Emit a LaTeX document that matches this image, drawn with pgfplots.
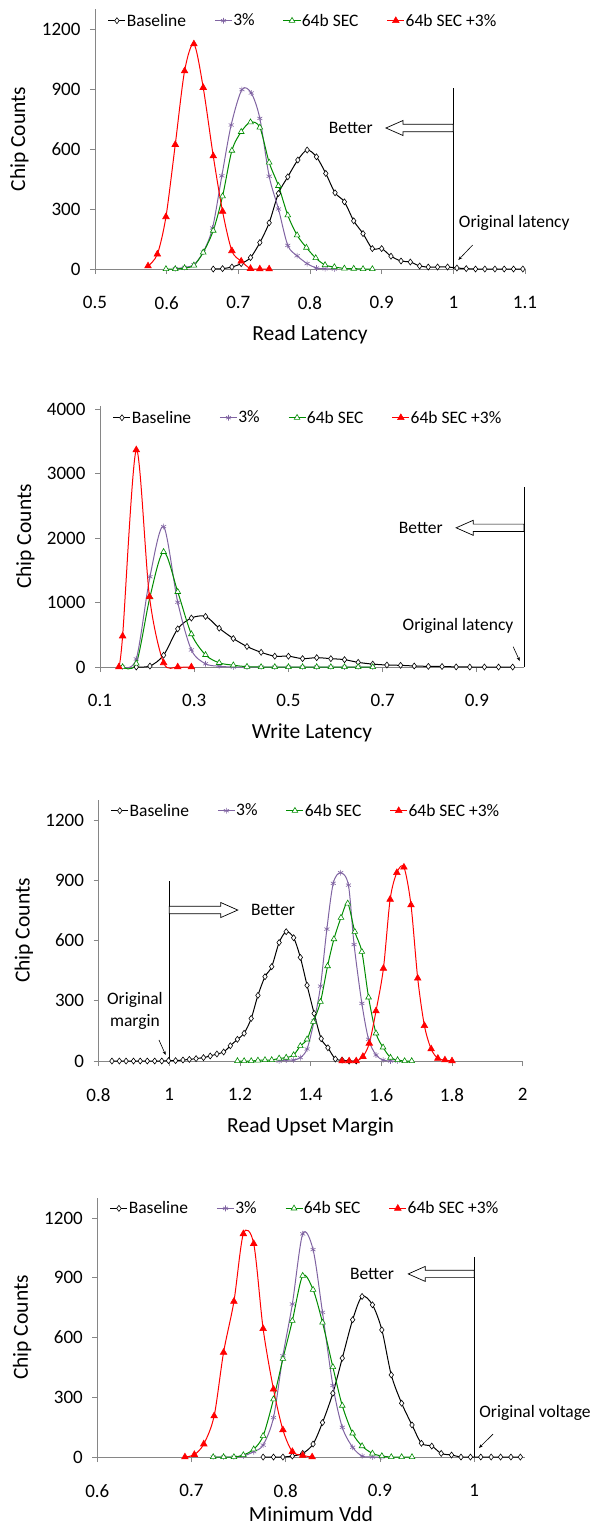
\documentclass[border=0pt]{standalone}
\usepackage{fontspec}
\setmainfont{Carlito}
\usepackage{pgfplots}
\pgfplotsset{compat=1.18}
\usetikzlibrary{arrows.meta}

\definecolor{axgray}{RGB}{134,134,134}
\definecolor{cpurple}{RGB}{128,100,162}
\definecolor{cgreen}{RGB}{0,140,0}
\definecolor{cred}{RGB}{255,0,0}

\newcommand{\annfont}{\fontsize{17.5}{21.7}\selectfont}

% left-pointing block arrow: tip x, tail x, y
\newcommand{\larrow}[3]{%
  \draw[black, line width=0.7pt, fill=white, line join=miter]
    (axis cs:#1,#3) -- ([xshift=17pt,yshift=7.5pt]axis cs:#1,#3)
    -- ([xshift=17pt,yshift=3.7pt]axis cs:#1,#3)
    -- ([yshift=3.7pt]axis cs:#2,#3) -- ([yshift=-3.7pt]axis cs:#2,#3)
    -- ([xshift=17pt,yshift=-3.7pt]axis cs:#1,#3)
    -- ([xshift=17pt,yshift=-7.5pt]axis cs:#1,#3) -- cycle;}
% right-pointing block arrow: tip x, tail x, y
\newcommand{\rarrow}[3]{%
  \draw[black, line width=0.7pt, fill=white, line join=miter]
    (axis cs:#1,#3) -- ([xshift=-17pt,yshift=7.5pt]axis cs:#1,#3)
    -- ([xshift=-17pt,yshift=3.7pt]axis cs:#1,#3)
    -- ([yshift=3.7pt]axis cs:#2,#3) -- ([yshift=-3.7pt]axis cs:#2,#3)
    -- ([xshift=-17pt,yshift=-3.7pt]axis cs:#1,#3)
    -- ([xshift=-17pt,yshift=-7.5pt]axis cs:#1,#3) -- cycle;}

\pgfplotsset{
  panel/.style={
    scale only axis,
    axis x line=bottom, axis y line=left,
    axis line style={draw=axgray, line width=0.8pt, -},
    tick style={draw=axgray, line width=0.8pt},
    tick align=outside,
    major tick length=5pt,
    clip=false,
    ymin=0,
    /pgf/number format/assume math mode=true,
    /pgf/number format/1000 sep={},
    tick label style={font=\fontsize{19}{22}\selectfont},
    xticklabel style={yshift=-19pt},
    yticklabel style={xshift=-6pt},
    label style={font=\fontsize{21.5}{25}\selectfont},
    ylabel={Chip Counts},
    ylabel style={at={(axis description cs:-0.176,0.5)}, anchor=center},
    xlabel style={at={(axis description cs:0.5,0)}, anchor=center, yshift=-66pt},
    legend columns=-1,
    legend style={draw=none, fill=none, inner sep=0pt, anchor=west,
      font=\fontsize{17.5}{20}\selectfont, nodes={inner sep=0.8pt},
      /tikz/every even column/.append style={column sep=27.5pt}},
    every axis plot/.append style={line width=1pt, smooth, tension=0.5},
  },
  sbase/.style={black, mark=diamond*, mark options={fill=white, solid, line width=0.6pt}, mark size=3pt},
  s3/.style={cpurple, mark=asterisk, mark options={solid, line width=0.6pt}, mark size=2.9pt},
  ssec/.style={cgreen, mark=triangle*, mark options={fill=white, solid, line width=0.6pt}, mark size=3.3pt},
  ssec3/.style={cred, mark=triangle*, mark options={solid, line width=0.6pt}, mark size=3.8pt},
}

\begin{document}
\begin{tikzpicture}
\useasboundingbox (0,0) rectangle (593pt,-1529pt);

% ---------------- Panel 1: Read Latency ----------------
\begin{axis}[panel, at={(95pt,-269pt)}, anchor=south west,
  width=430pt, height=260pt,
  xmin=0.5, xmax=1.1, ymax=1300,
  xtick={0.5,0.6,0.7,0.8,0.9,1,1.1}, ytick={0,300,600,900,1200},
  xlabel={Read Latency},
  legend style={at={(0.0295,0.955)}}]
\addplot[sbase] coordinates {
(0.665,0)(0.678,2)(0.691,10)(0.704,27)(0.717,57)(0.730,132)(0.743,231)(0.756,378)
(0.769,461)(0.783,545)(0.796,595)(0.809,561)(0.822,478)(0.835,381)(0.848,336)(0.861,241)
(0.874,177)(0.887,102)(0.900,102)(0.913,64)(0.927,40)(0.940,35)(0.953,15)(0.965,10)
(0.978,10)(0.992,10)(1.005,5)(1.018,2)(1.031,0)(1.044,0)(1.058,0)(1.071,0)(1.084,0)(1.097,0)};
\addlegendentry{Baseline}
\addplot[s3] coordinates {
(0.612,2)(0.625,8)(0.638,22)(0.651,85)(0.664,205)(0.677,466)(0.690,720)(0.705,897)
(0.718,880)(0.730,753)(0.743,464)(0.756,300)(0.769,118)(0.782,66)(0.796,27)(0.809,5)
(0.821,1)(0.834,0)};
\addlegendentry{3\%}
\addplot[ssec] coordinates {
(0.599,0)(0.612,0)(0.625,5)(0.638,18)(0.651,83)(0.665,192)(0.678,364)(0.691,592)
(0.704,686)(0.717,734)(0.730,708)(0.743,533)(0.756,416)(0.769,269)(0.782,169)(0.795,107)
(0.808,55)(0.821,20)(0.834,10)(0.848,3)(0.861,2)(0.874,0)(0.887,0)};
\addlegendentry{64b SEC}
\addplot[ssec3] coordinates {
(0.574,15)(0.587,74)(0.599,261)(0.612,622)(0.625,990)(0.638,1125)(0.651,907)(0.665,565)
(0.678,288)(0.691,91)(0.704,39)(0.717,2)(0.730,0)(0.743,0)};
\addlegendentry{64b SEC +3\%}
\draw[black, line width=0.8pt] (axis cs:1,0) -- (axis cs:1,905);
\larrow{0.906}{1.0}{705}
\node[font=\annfont] at (axis cs:0.857,705) {Better};
\node[font=\annfont] at (axis cs:1.085,230) {Original latency};
\draw[-{Stealth[length=4pt,width=3pt]}, line width=0.6pt] (axis cs:1.027,120) -- (axis cs:1.007,45);
\end{axis}

% ---------------- Panel 2: Write Latency ----------------
\begin{axis}[panel, at={(100pt,-667pt)}, anchor=south west,
  width=424pt, height=261pt,
  xmin=0.1, xmax=1.0, ymax=4050,
  xtick={0.1,0.3,0.5,0.7,0.9}, ytick={0,1000,2000,3000,4000},
  xlabel={Write Latency},
  legend style={at={(0.030,0.955)}}]
\addplot[sbase] coordinates {
(0.177,0)(0.206,15)(0.235,183)(0.265,592)(0.294,760)(0.324,785)(0.353,602)(0.383,442)
(0.412,318)(0.442,228)(0.471,168)(0.500,168)(0.530,130)(0.560,145)(0.590,130)(0.619,114)
(0.648,72)(0.679,45)(0.709,31)(0.738,26)(0.767,16)(0.797,10)(0.826,8)(0.856,2)
(0.885,0)(0.916,0)(0.946,0)(0.976,0)};
\addlegendentry{Baseline}
\addplot[s3] coordinates {
(0.148,0)(0.177,125)(0.206,1400)(0.235,2179)(0.265,1005)(0.294,265)(0.324,50)(0.353,12)
(0.383,0)(0.412,0)(0.442,0)(0.471,0)(0.500,0)(0.530,0)(0.560,0)(0.590,0)(0.619,0)(0.648,0)(0.679,0)};
\addlegendentry{3\%}
\addplot[ssec] coordinates {
(0.148,0)(0.177,55)(0.206,1085)(0.235,1787)(0.265,1167)(0.294,510)(0.324,188)(0.353,65)
(0.383,28)(0.412,5)(0.442,0)(0.471,0)(0.500,0)(0.530,0)(0.560,0)(0.590,0)(0.619,0)(0.648,0)(0.679,0)};
\addlegendentry{64b SEC}
\addplot[ssec3] coordinates {
(0.140,0)(0.148,480)(0.177,3369)(0.205,1090)(0.235,65)(0.265,0)(0.294,0)};
\addlegendentry{64b SEC +3\%}
\draw[black, line width=0.8pt] (axis cs:1,0) -- (axis cs:1,2795);
\larrow{0.856}{1.0}{2160}
\node[font=\annfont] at (axis cs:0.781,2160) {Better};
\node[font=\annfont] at (axis cs:0.860,636) {Original latency};
\draw[-{Stealth[length=4pt,width=3pt]}, line width=0.6pt] (axis cs:0.977,315) -- (axis cs:0.991,93);
\end{axis}

% ---------------- Panel 3: Read Upset Margin ----------------
\begin{axis}[panel, at={(98.5pt,-1061pt)}, anchor=south west,
  width=424.2pt, height=261pt,
  xmin=0.8, xmax=2.0, ymax=1300,
  xtick={0.8,1,1.2,1.4,1.6,1.8,2}, ytick={0,300,600,900,1200},
  xlabel={Read Upset Margin},
  legend style={at={(0.0285,0.959)}}]
\addplot[sbase] coordinates {
(0.838,0)(0.859,0)(0.878,0)(0.899,0)(0.918,0)(0.938,0)(0.959,0)(0.979,0)(0.998,2)
(1.018,2)(1.039,5)(1.057,8)(1.076,12)(1.097,17)(1.116,25)(1.135,35)(1.154,45)(1.173,76)
(1.193,108)(1.212,138)(1.232,212)(1.251,327)(1.271,420)(1.290,470)(1.311,590)(1.331,644)
(1.352,614)(1.371,516)(1.390,377)(1.410,237)(1.430,111)(1.449,66)(1.470,10)(1.489,5)
(1.509,0)(1.529,0)};
\addlegendentry{Baseline}
\addplot[s3] coordinates {
(1.311,0)(1.331,5)(1.352,5)(1.371,17)(1.390,60)(1.410,200)(1.428,373)(1.446,657)
(1.464,885)(1.485,938)(1.507,876)(1.523,580)(1.545,287)(1.564,108)(1.585,30)(1.605,5)
(1.626,0)(1.646,0)};
\addlegendentry{3\%}
\addplot[ssec] coordinates {
(1.193,0)(1.212,0)(1.232,0)(1.251,3)(1.271,5)(1.290,5)(1.311,13)(1.331,17)(1.352,30)
(1.371,75)(1.390,108)(1.408,196)(1.428,295)(1.448,473)(1.466,607)(1.486,714)(1.505,785)
(1.525,644)(1.545,544)(1.564,317)(1.585,138)(1.605,68)(1.626,17)(1.646,5)(1.666,0)(1.686,0)};
\addlegendentry{64b SEC}
\addplot[ssec3] coordinates {
(1.489,0)(1.509,0)(1.529,0)(1.548,22)(1.566,88)(1.585,249)(1.606,461)(1.625,805)
(1.644,938)(1.664,965)(1.684,777)(1.703,412)(1.722,176)(1.741,60)(1.760,13)(1.780,5)(1.800,0)};
\addlegendentry{64b SEC +3\%}
\draw[black, line width=0.8pt] (axis cs:1,0) -- (axis cs:1,898);
\rarrow{1.194}{1.0}{752}
\node[font=\annfont] at (axis cs:1.294,752) {Better};
\node[font=\annfont, align=center] at (axis cs:0.903,250) {Original\\margin};
\draw[-{Stealth[length=4pt,width=3pt]}, line width=0.6pt] (axis cs:0.971,105) -- (axis cs:0.990,30);
\end{axis}

% ---------------- Panel 4: Minimum Vdd ----------------
\begin{axis}[panel, at={(97.3pt,-1457pt)}, anchor=south west,
  width=427.3pt, height=259pt,
  xmin=0.6, xmax=1.0535, ymax=1300,
  xtick={0.6,0.7,0.8,0.9,1}, ytick={0,300,600,900,1200},
  xlabel={Minimum Vdd},
  xlabel style={yshift=9pt},
  legend style={at={(0.029,0.960)}}]
\addplot[sbase] coordinates {
(0.776,0)(0.787,0)(0.797,0)(0.807,5)(0.818,18)(0.829,65)(0.839,173)(0.850,320)
(0.860,496)(0.871,689)(0.881,806)(0.892,764)(0.902,638)(0.912,412)(0.923,270)(0.934,161)
(0.944,69)(0.955,55)(0.965,18)(0.976,10)(0.986,0)(0.996,0)(1.007,0)(1.018,0)(1.028,0)
(1.039,0)(1.049,0)};
\addlegendentry{Baseline}
\addplot[s3] coordinates {
(0.723,0)(0.734,0)(0.745,0)(0.755,5)(0.766,27)(0.776,60)(0.787,198)(0.797,508)
(0.807,768)(0.818,1120)(0.829,1041)(0.839,726)(0.850,359)(0.860,149)(0.871,49)(0.881,5)
(0.892,0)(0.902,0)};
\addlegendentry{3\%}
\addplot[ssec] coordinates {
(0.723,0)(0.734,0)(0.745,0)(0.755,10)(0.766,39)(0.776,106)(0.787,290)(0.797,493)
(0.807,684)(0.818,910)(0.829,840)(0.839,675)(0.850,452)(0.860,258)(0.871,119)(0.881,55)
(0.892,18)(0.902,5)(0.912,0)(0.923,0)(0.934,0)};
\addlegendentry{64b SEC}
\addplot[ssec3] coordinates {
(0.693,0)(0.703,12)(0.713,65)(0.724,206)(0.734,525)(0.745,781)(0.755,1120)(0.766,1071)
(0.776,644)(0.787,340)(0.797,136)(0.807,27)(0.818,8)(0.828,0)};
\addlegendentry{64b SEC +3\%}
\draw[black, line width=0.8pt] (axis cs:1,0) -- (axis cs:1,1005);
\larrow{0.930}{1.0}{919}
\node[font=\annfont] at (axis cs:0.8915,919) {Better};
\node[font=\annfont] at (axis cs:1.0645,222) {Original voltage};
\draw[-{Stealth[length=4pt,width=3pt]}, line width=0.6pt] (axis cs:1.020,115) -- (axis cs:1.005,45);
\end{axis}
\end{tikzpicture}
\end{document}
